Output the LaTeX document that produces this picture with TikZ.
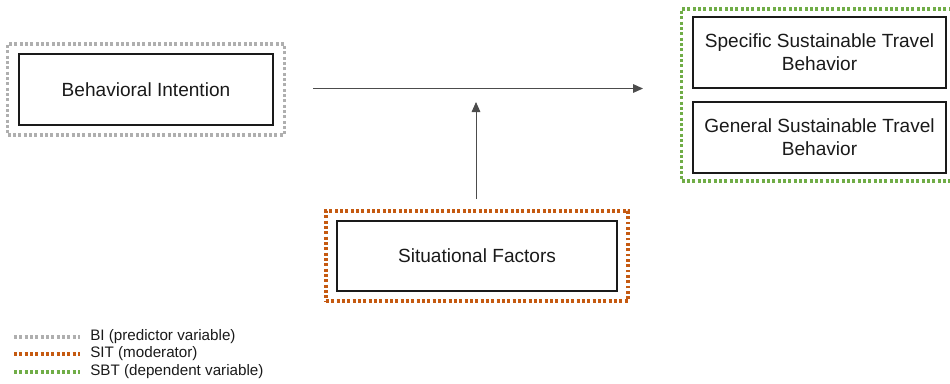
\documentclass[tikz,border=0pt]{standalone}
\usepackage{fontspec}
\setmainfont{Liberation Sans}
\usetikzlibrary{arrows.meta,fit}

\definecolor{bigray}{HTML}{AFAFAF}
\definecolor{sitorange}{HTML}{C55A11}
\definecolor{sbtgreen}{HTML}{70AD47}
\definecolor{txtdark}{HTML}{1A1A1A}

\begin{document}
\begin{tikzpicture}[x=0.75pt,y=-0.75pt,
    varbox/.style={draw=txtdark,line width=1pt,inner sep=0pt,align=center,
      text=txtdark,font=\fontsize{14.3}{17.5}\selectfont},
    grpbox/.style={line width=2.5pt,dash pattern=on 2.2pt off 1.8pt},
    link/.style={draw=black!70,line width=0.7pt,-{Triangle[length=7.5pt,width=6.5pt]}},
    legtext/.style={anchor=west,inner sep=0pt,text=txtdark,
      font=\fontsize{11.4}{13}\selectfont}]
  \useasboundingbox (0,0) rectangle (950,383);

  % variables
  \node[varbox,minimum width=190.5pt,minimum height=53.25pt] (bi) at (146,89.5)
    {Behavioral Intention};
  \node[varbox,minimum width=210pt,minimum height=52.5pt] (sit) at (477,256)
    {Situational Factors};
  \node[varbox,minimum width=189.75pt,minimum height=53.25pt] (ssb) at (819.5,52.5)
    {Specific Sustainable Travel\\Behavior};
  \node[varbox,minimum width=189.75pt,minimum height=53.25pt] (gsb) at (819.5,137.5)
    {General Sustainable Travel\\Behavior};

  % dotted groups round the variables
  \node[grpbox,draw=bigray,fit=(bi),inner xsep=8pt,inner ysep=7pt] (bi-grp) {};
  \node[grpbox,draw=sitorange,fit=(sit),inner xsep=7.8pt,inner ysep=7pt] (sit-grp) {};
  \node[grpbox,draw=sbtgreen,fit=(ssb)(gsb),inner xsep=8pt,inner ysep=5.5pt] (sbt-grp) {};

  % paths
  \coordinate (bi-out) at (313,88.5);
  \coordinate (sbt-in) at (643,88.5);
  \coordinate (mod-out) at (476,199);
  \coordinate (mod-in) at (476,102);
  \draw[link] (bi-out) -- (sbt-in);
  \draw[link] (mod-out) -- (mod-in);

  % legend
  \draw[grpbox,bigray] (14,337) -- (80,337);
  \draw[grpbox,sitorange] (14,354) -- (80,354);
  \draw[grpbox,sbtgreen] (14,372) -- (80,372);
  \node[legtext] (leg-bi) at (90,337) {BI (predictor variable)};
  \node[legtext] (leg-sit) at (90,354) {SIT (moderator)};
  \node[legtext] (leg-sbt) at (90,372) {SBT (dependent variable)};
\end{tikzpicture}
\end{document}
